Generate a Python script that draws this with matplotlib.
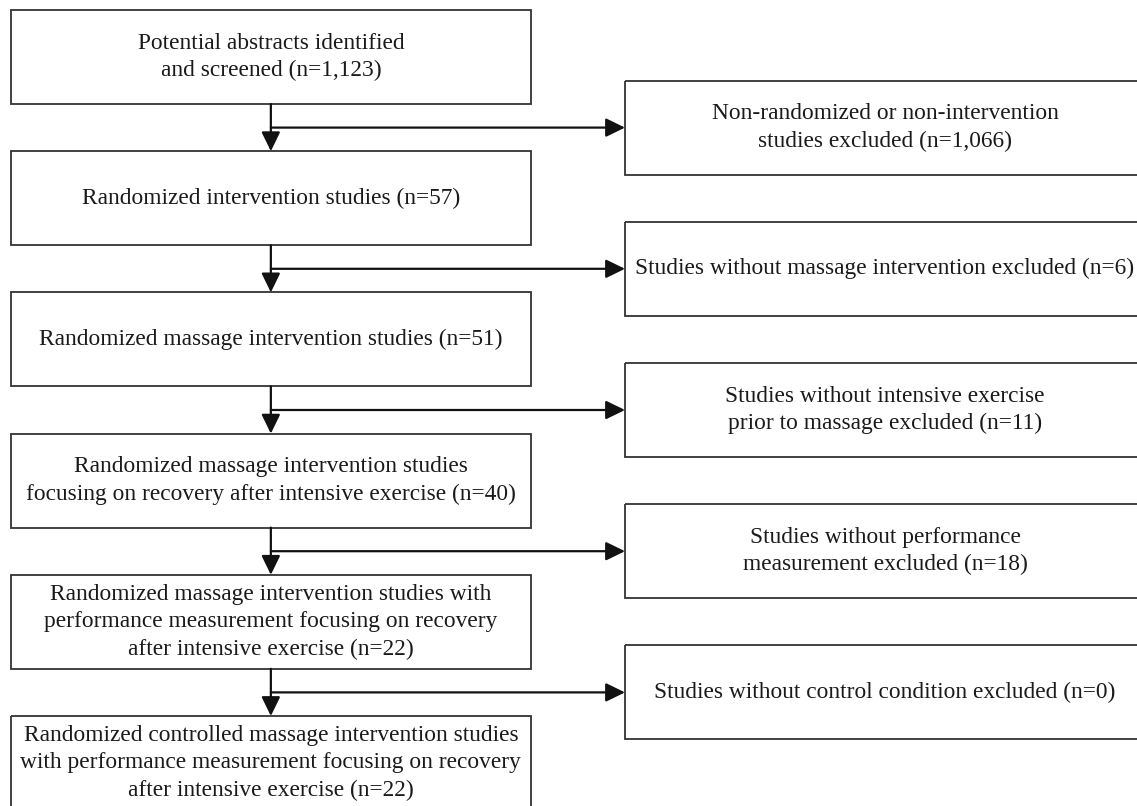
import matplotlib
matplotlib.use("Agg")
import matplotlib.pyplot as plt
from matplotlib.patches import Rectangle

# ---- data ----
included_counts = [1123, 57, 51, 40, 22, 22]
excluded_counts = [1066, 6, 11, 18, 0]

included_templates = [
    "Potential abstracts identified\nand screened (n={})",
    "Randomized intervention studies (n={})",
    "Randomized massage intervention studies (n={})",
    "Randomized massage intervention studies\nfocusing on recovery after intensive exercise (n={})",
    "Randomized massage intervention studies with\nperformance measurement focusing on recovery\nafter intensive exercise (n={})",
    "Randomized controlled massage intervention studies\nwith performance measurement focusing on recovery\nafter intensive exercise (n={})",
]
excluded_templates = [
    "Non-randomized or non-intervention\nstudies excluded (n={})",
    "Studies without massage intervention excluded (n={})",
    "Studies without intensive exercise\nprior to massage excluded (n={})",
    "Studies without performance\nmeasurement excluded (n={})",
    "Studies without control condition excluded (n={})",
]

def fmt(n):
    return f"{n:,}"

included_labels = [t.format(fmt(n)) for t, n in zip(included_templates, included_counts)]
excluded_labels = [t.format(fmt(n)) for t, n in zip(excluded_templates, excluded_counts)]

# ---- layout (pixel coordinates) ----
W, H = 1137, 806
fig = plt.figure(figsize=(W / 100, H / 100), dpi=100)
ax = fig.add_axes([0, 0, 1, 1])
ax.set_xlim(0, W)
ax.set_ylim(H, 0)
ax.axis("off")

FONT = dict(family="Liberation Serif", fontsize=16.8, color="#1a1a1a",
            ha="center", va="center", linespacing=1.4)

L_X0, L_X1 = 10.7, 531
R_X0, R_X1 = 625, 1145
BOX_H = 94
STEP = 141.2
TOP0 = 10

box_kw = dict(fill=False, edgecolor="#333333", linewidth=1.3)
arrow_kw = dict(arrowstyle="-|>,head_length=0.78,head_width=0.38",
                color="#111111", lw=1.6, shrinkA=0, shrinkB=0,
                mutation_scale=15)

xc = (L_X0 + L_X1) / 2
for i, lab in enumerate(included_labels):
    top = TOP0 + i * STEP
    ax.add_patch(Rectangle((L_X0, top), L_X1 - L_X0, BOX_H, **box_kw))
    ax.text(xc, top + BOX_H / 2, lab, **FONT)

for i, lab in enumerate(excluded_labels):
    ymid = TOP0 + i * STEP + BOX_H + (STEP - BOX_H) / 2
    top = ymid - BOX_H / 2
    ax.add_patch(Rectangle((R_X0, top), R_X1 - R_X0, BOX_H, **box_kw))
    ax.text((R_X0 + R_X1) / 2, ymid, lab, **FONT)
    # vertical arrow to next included box
    y_bot = TOP0 + i * STEP + BOX_H
    y_next = TOP0 + (i + 1) * STEP
    ax.annotate("", xy=(xc, y_next), xytext=(xc, y_bot),
                arrowprops=arrow_kw)
    # horizontal branch to excluded box
    ax.annotate("", xy=(R_X0, ymid), xytext=(xc, ymid),
                arrowprops=arrow_kw)

fig.savefig("out.png", dpi=100)
